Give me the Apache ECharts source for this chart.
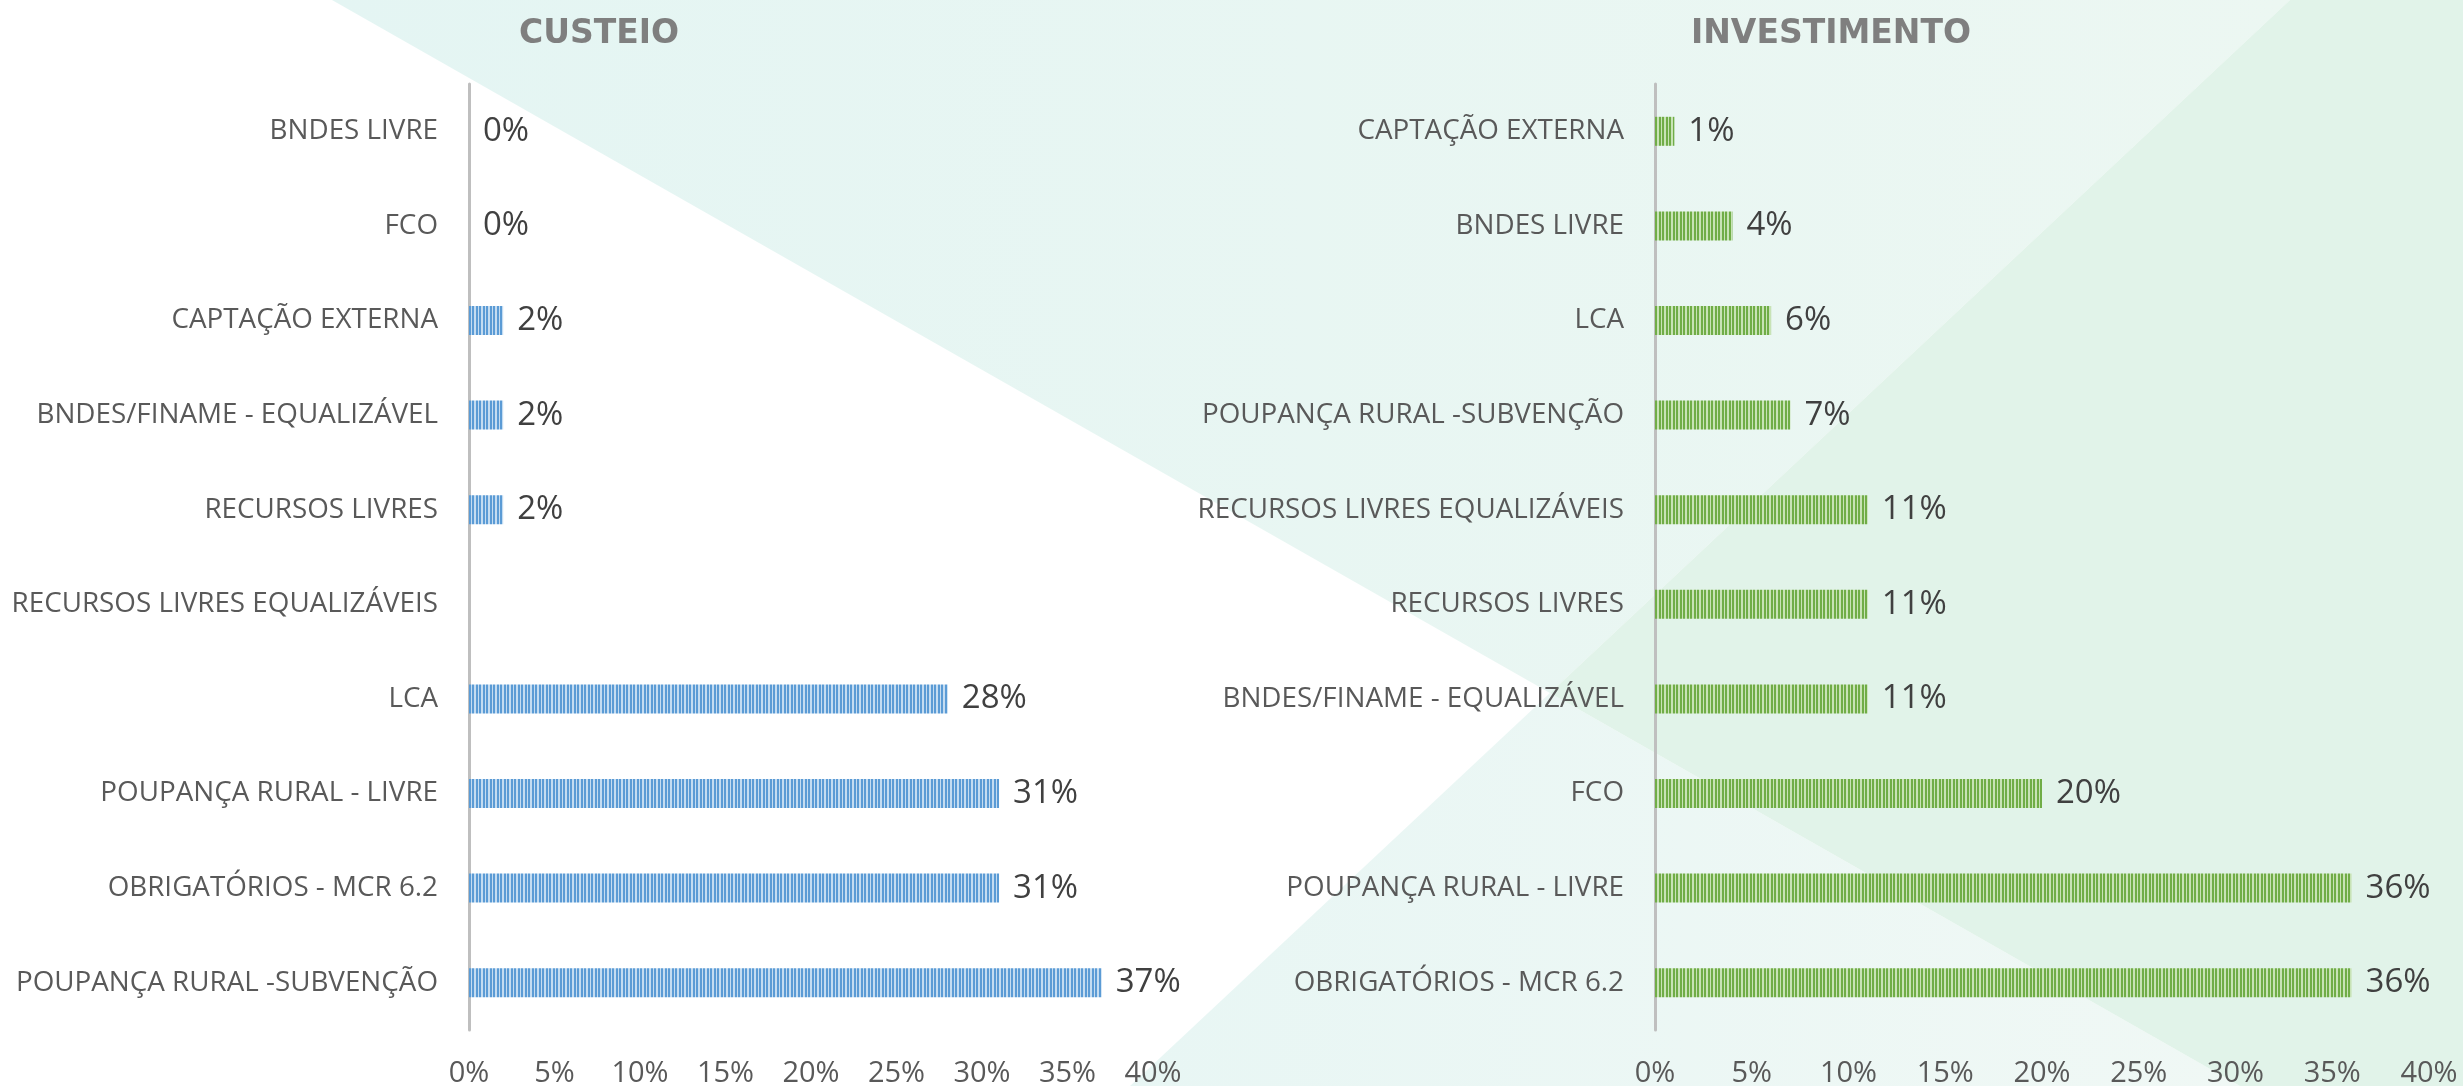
<!DOCTYPE html>
<html>
<head>
<meta charset="utf-8">
<title>Custeio / Investimento</title>
<script src="https://cdn.jsdelivr.net/npm/echarts@6/dist/echarts.min.js"></script>
<style>
  html, body { margin: 0; padding: 0; background: #fff; }
  #chart { width: 2463px; height: 1086px; }
</style>
</head>
<body>
<div id="chart"></div>
<script>
// dados (valores em %)
const custeioCategories = [
  'BNDES LIVRE', 'FCO', 'CAPTAÇÃO EXTERNA', 'BNDES/FINAME - EQUALIZÁVEL', 'RECURSOS LIVRES',
  'RECURSOS LIVRES EQUALIZÁVEIS', 'LCA', 'POUPANÇA RURAL - LIVRE', 'OBRIGATÓRIOS - MCR 6.2',
  'POUPANÇA RURAL -SUBVENÇÃO'
]
const custeioValues = [0, 0, 2, 2, 2, null, 28, 31, 31, 37]

const investimentoCategories = [
  'CAPTAÇÃO EXTERNA', 'BNDES LIVRE', 'LCA', 'POUPANÇA RURAL -SUBVENÇÃO', 'RECURSOS LIVRES EQUALIZÁVEIS',
  'RECURSOS LIVRES', 'BNDES/FINAME - EQUALIZÁVEL', 'FCO', 'POUPANÇA RURAL - LIVRE', 'OBRIGATÓRIOS - MCR 6.2'
]
const investimentoValues = [1, 4, 6, 7, 11, 11, 11, 20, 36, 36]

const axisMin = 0
const axisMax = 40
const axisStep = 5

const FONT = '"Open Sans", "DejaVu Sans", sans-serif'

// listras verticais das barras
function stripes(dark, light) {
  const c = document.createElement('canvas')
  c.width = 7
  c.height = 4
  const ctx = c.getContext('2d')
  ctx.fillStyle = light
  ctx.fillRect(0, 0, 7, 4)
  ctx.fillStyle = dark
  ctx.fillRect(0, 0, 2, 4)
  ctx.fillRect(3, 0, 2, 4)
  return { image: c, repeat: 'repeat' }
}

const bluePattern = stripes('#5b9bd5', '#c4dcf1')
const greenPattern = stripes('#70ad47', '#c8e3b6')

function xAxisFor(gridIndex) {
  return {
    type: 'value',
    gridIndex: gridIndex,
    min: axisMin,
    max: axisMax,
    interval: axisStep,
    axisLine: { show: false },
    axisTick: { show: false },
    splitLine: { show: false },
    axisLabel: {
      formatter: '{value}%',
      color: '#595959',
      fontFamily: FONT,
      fontSize: 29,
      margin: 29
    }
  }
}

function yAxisFor(gridIndex, categories) {
  return {
    type: 'category',
    gridIndex: gridIndex,
    data: categories,
    inverse: true,
    axisLine: { show: true, lineStyle: { color: '#bfbfbf', width: 3 } },
    axisTick: { show: false },
    axisLabel: {
      color: '#595959',
      fontFamily: FONT,
      fontSize: 27.8,
      margin: 31
    }
  }
}

function barSeries(index, values, pattern) {
  return {
    type: 'bar',
    xAxisIndex: index,
    yAxisIndex: index,
    data: values,
    barWidth: 29,
    itemStyle: { color: pattern },
    label: {
      show: true,
      position: 'right',
      distance: 14,
      color: '#404040',
      fontFamily: FONT,
      fontSize: 33,
      formatter: p => p.value + '%'
    }
  }
}

const chart = echarts.init(document.getElementById('chart'))

chart.setOption({
  backgroundColor: '#ffffff',
  animation: false,
  graphic: [
    // fundo decorativo
    {
      type: 'polygon', z: -10, silent: true,
      shape: { points: [[332, 0], [2290, 0], [1550, 693]] },
      style: { fill: new echarts.graphic.LinearGradient(0, 0, 1, 0, [
        { offset: 0, color: '#e4f5f3' }, { offset: 1, color: '#ecf7f2' }
      ]) }
    },
    {
      type: 'polygon', z: -10, silent: true,
      shape: { points: [[1550, 693], [2240, 1086], [1130, 1086]] },
      style: { fill: new echarts.graphic.LinearGradient(0, 0, 1, 0, [
        { offset: 0, color: '#e8f6f4' }, { offset: 1, color: '#f0f8f5' }
      ]) }
    },
    {
      type: 'polygon', z: -10, silent: true,
      shape: { points: [[2290, 0], [2463, 0], [2463, 1086], [2240, 1086], [1550, 693]] },
      style: { fill: '#e1f3e9' }
    },
    {
      type: 'text', x: 599, y: 34,
      style: { text: 'CUSTEIO', align: 'center', verticalAlign: 'middle',
        font: 'bold 33px "DejaVu Sans", sans-serif', fill: '#7f7f7f' }
    },
    {
      type: 'text', x: 1831, y: 34,
      style: { text: 'INVESTIMENTO', align: 'center', verticalAlign: 'middle',
        font: 'bold 33px "DejaVu Sans", sans-serif', fill: '#7f7f7f' }
    }
  ],
  grid: [
    { left: 469, right: 1310, top: 84, bottom: 56, outerBoundsMode: 'none' },
    { left: 1655, right: 34, top: 84, bottom: 56, outerBoundsMode: 'none' }
  ],
  xAxis: [xAxisFor(0), xAxisFor(1)],
  yAxis: [yAxisFor(0, custeioCategories), yAxisFor(1, investimentoCategories)],
  series: [
    barSeries(0, custeioValues, bluePattern),
    barSeries(1, investimentoValues, greenPattern)
  ]
})
</script>
</body>
</html>
